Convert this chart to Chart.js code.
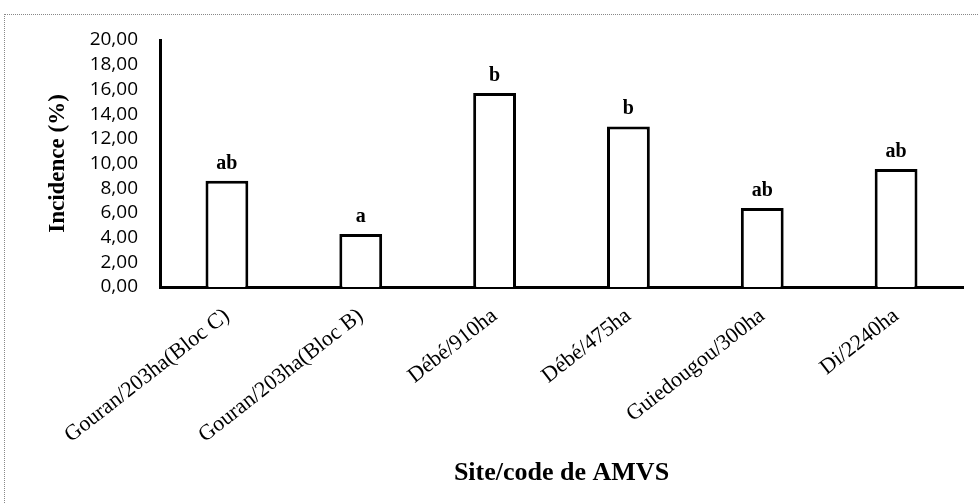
<!DOCTYPE html>
<html>
<head>
<meta charset="utf-8">
<script src="https://cdn.jsdelivr.net/npm/chart.js@4.4.1/dist/chart.umd.min.js"></script>
<style>
  html, body { margin: 0; padding: 0; background: #fff; }
  #wrap { position: relative; width: 978px; height: 503px; }
  #frame { position: absolute; left: 4px; top: 14px; right: 0; bottom: 0;
           border-top: 1px dotted #888; border-left: 1px dotted #888; pointer-events: none; }
</style>
</head>
<body>
<div id="wrap">
  <canvas id="chart" width="978" height="503"></canvas>
  <div id="frame"></div>
</div>
<script>
const categories = [
  "Gouran/203ha(Bloc C)",
  "Gouran/203ha(Bloc B)",
  "Débé/910ha",
  "Débé/475ha",
  "Guiedougou/300ha",
  "Di/2240ha"
];
const incidence = [8.6, 4.3, 15.7, 13.0, 6.4, 9.55];
const groupLetters = ["ab", "a", "b", "b", "ab", "ab"];
const yTicks = { min: 0, max: 20, step: 2 };

// letters of the statistical groups, written above each bar
const letterPlugin = {
  id: "letters",
  afterDatasetsDraw(chart) {
    const ctx = chart.ctx;
    const meta = chart.getDatasetMeta(0);
    ctx.save();
    ctx.font = "bold 20px 'Liberation Serif'";
    ctx.fillStyle = "#000";
    ctx.textAlign = "center";
    ctx.textBaseline = "alphabetic";
    meta.data.forEach((bar, i) => {
      ctx.fillText(groupLetters[i], bar.x, bar.y - 12);
    });
    ctx.restore();
  }
};

const ctx = document.getElementById("chart").getContext("2d");
new Chart(ctx, {
  type: "bar",
  data: {
    labels: categories,
    datasets: [{
      data: incidence,
      backgroundColor: "#fff",
      borderColor: "#000",
      borderWidth: 3,
      categoryPercentage: 1,
      barPercentage: 0.32
    }]
  },
  options: {
    responsive: false,
    animation: false,
    layout: { padding: { top: 40, right: 15, left: 40, bottom: 10 } },
    plugins: { legend: { display: false }, tooltip: { enabled: false } },
    scales: {
      x: {
        grid: { display: false },
        border: { color: "#000", width: 3 },
        ticks: {
          color: "#000",
          font: { family: "'Liberation Serif'", size: 22 },
          minRotation: 38,
          maxRotation: 38,
          padding: 8,
          autoSkip: false
        },
        title: {
          display: true,
          text: "Site/code de AMVS",
          color: "#000",
          font: { family: "'Liberation Serif'", size: 26, weight: "bold" }
        },
        afterFit(scale) { scale.height = 206; }
      },
      y: {
        min: yTicks.min,
        max: yTicks.max,
        grid: { display: false },
        border: { color: "#000", width: 3 },
        ticks: {
          stepSize: yTicks.step,
          autoSkip: false,
          color: "#000",
          padding: 14,
          font: { family: "'Open Sans'", size: 19, lineHeight: 1 },
          callback: v => v.toFixed(2).replace(".", ",")
        },
        title: {
          display: true,
          text: "Incidence (%)",
          color: "#000",
          font: { family: "'Liberation Serif'", size: 23, weight: "bold" }
        },
        afterFit(scale) { scale.width = 120; }
      }
    }
  },
  plugins: [letterPlugin]
});
</script>
</body>
</html>
